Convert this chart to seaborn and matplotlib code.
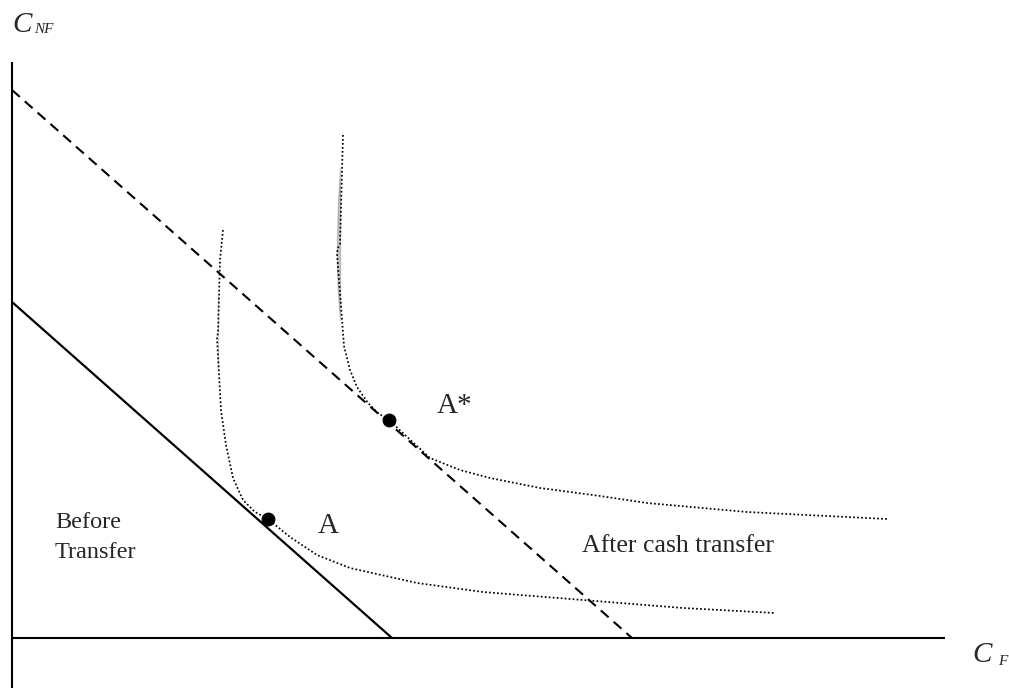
import matplotlib
matplotlib.use("Agg")
import matplotlib.pyplot as plt
import seaborn as sns
import pandas as pd

# ---- data (economic coordinates: C_F on x, C_NF on y) ----
budget_before_x = [0, 380]
budget_before_y = [336, 0]
budget_after_x = [0, 620]
budget_after_y = [548, 0]

ic1_x = [211, 208, 206, 205, 206, 209, 214, 221, 231, 243, 256, 278, 305, 338, 405, 471, 571, 671, 763]
ic1_y = [408, 378, 343, 300, 268, 228, 193, 160, 138, 126, 119, 101, 83, 70, 55, 46, 38, 30, 25]

ic2_x = [331, 328, 326, 325, 325, 326, 328, 332, 338, 345, 356, 366, 377, 393, 418, 448, 478, 528, 588, 635, 735, 875]
ic2_y = [503, 470, 435, 400, 370, 345, 318, 292, 268, 251, 235, 225, 218, 203, 180, 168, 160, 150, 142, 135, 126, 119]

point_labels = ["A", "A*"]
point_x = [256, 377]
point_y = [119, 218]

axis_x_end = 933
axis_y_top = 576
axis_y_bottom = -50

sns.set_style("white")
plt.rcParams["font.family"] = ["Liberation Serif", "DejaVu Serif"]

fig = plt.figure(figsize=(10.09, 6.88), dpi=100)
ax = fig.add_axes([0, 0, 1, 1])
ax.set_xlim(-12, 997)
ax.set_ylim(-50, 638)
ax.axis("off")

# axes
ax.plot([0, axis_x_end], [0, 0], color="black", lw=1.5, solid_capstyle="butt")
ax.plot([0, 0], [axis_y_bottom, axis_y_top], color="black", lw=1.5, solid_capstyle="butt")

# budget lines
sns.lineplot(x=budget_before_x, y=budget_before_y, ax=ax, color="black", lw=1.6, sort=False)
sns.lineplot(x=budget_after_x, y=budget_after_y, ax=ax, color="black", lw=1.5, sort=False)
ax.lines[-1].set_linestyle((0, (5, 3.2)))

# indifference curves
dot_style = (0, (1, 1.3))
sns.lineplot(x=ic1_x, y=ic1_y, ax=ax, color="black", lw=1.25, sort=False)
ax.lines[-1].set_linestyle(dot_style)
sns.lineplot(x=ic2_x, y=ic2_y, ax=ax, color="black", lw=1.25, sort=False)
ax.lines[-1].set_linestyle(dot_style)

# points
pts = pd.DataFrame({"x": point_x, "y": point_y, "label": point_labels})
sns.scatterplot(data=pts, x="x", y="y", ax=ax, color="black", s=85, edgecolor="black", zorder=5)

# labels
ax.text(306, 105, "A", fontsize=21, ha="left", va="baseline")
ax.text(425, 225, "A*", fontsize=21, ha="left", va="baseline")
ax.text(43, 110, "Before", fontsize=17.5, ha="left", va="baseline")
ax.text(43, 80, "Transfer", fontsize=17.5, ha="left", va="baseline")
ax.text(570, 86, "After cash transfer", fontsize=18.5, ha="left", va="baseline")

ax.text(0, 606, "C", fontsize=21, style="italic", ha="left", va="baseline")
ax.text(22, 605, "NF", fontsize=11, style="italic", ha="left", va="baseline")
ax.text(960, -24, "C", fontsize=21, style="italic", ha="left", va="baseline")
ax.text(986, -27, "F", fontsize=11, style="italic", ha="left", va="baseline")

fig.savefig("out.png", dpi=100)
